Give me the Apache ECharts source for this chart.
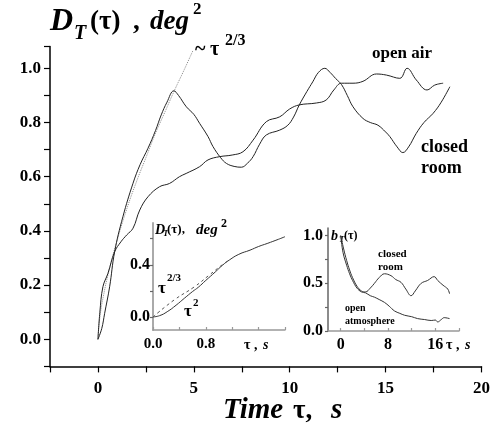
<!DOCTYPE html>
<html><head><meta charset="utf-8">
<script src="https://cdn.jsdelivr.net/npm/echarts@6/dist/echarts.min.js"></script>
<style>html,body{margin:0;padding:0;background:#fff}#c{width:493px;height:425px}</style>
</head><body><div id="c"></div>
<script>
// ---- main plot data (tau in s, D_T in deg^2) ----
const openAir = [[0,0],[0.1,0.1],[0.26,0.194],[0.52,0.243],[0.87,0.323],[1.2,0.36],[1.5,0.385],[1.83,0.41],[2.18,0.477],[2.61,0.526],[3.21,0.563],[3.73,0.575],[4.25,0.6],[4.6,0.612],[5.3,0.637],[5.74,0.662],[6.35,0.674],[7.0,0.68],[7.56,0.692],[8.09,0.735],[8.78,0.803],[9.48,0.821],[10.0,0.85],[10.5,0.865],[11.39,0.872],[11.9,0.883],[12.3,0.92],[12.7,0.945],[13.3,0.945],[13.82,0.952],[14.52,0.979],[15.04,0.975],[15.74,0.963],[16.12,1.0],[16.6,0.957],[17.16,0.92],[17.56,0.938],[18.0,0.945]];
const closedRoom = [[0,0],[0.2,0.04],[0.35,0.096],[0.61,0.194],[0.87,0.323],[1.3,0.452],[1.83,0.576],[2.2,0.645],[2.61,0.705],[3.0,0.77],[3.3,0.828],[3.6,0.875],[3.96,0.917],[4.2,0.9],[4.61,0.858],[5.0,0.83],[5.3,0.797],[5.74,0.748],[6.0,0.711],[6.4,0.67],[6.7,0.649],[7.1,0.638],[7.48,0.635],[7.8,0.65],[8.09,0.674],[8.43,0.72],[8.78,0.754],[9.48,0.772],[9.9,0.79],[10.2,0.82],[10.5,0.865],[10.9,0.915],[11.2,0.95],[11.5,0.985],[11.83,1.0],[12.1,0.985],[12.4,0.962],[12.7,0.94],[13.0,0.9],[13.3,0.858],[13.82,0.815],[14.2,0.8],[14.6,0.79],[15.0,0.765],[15.22,0.748],[15.6,0.71],[15.9,0.689],[16.2,0.71],[16.6,0.76],[17.0,0.8],[17.48,0.834],[17.9,0.875],[18.35,0.932]];
const powerLaw = [[0,0],[0.1,0.08],[0.3,0.165],[0.6,0.26],[1,0.365],[1.5,0.48],[2,0.58],[2.5,0.67],[3,0.76],[3.5,0.84],[4,0.92],[4.5,0.995],[4.95,1.065]];
const mainXTicks = [-2.5,0,2.5,5,7.5,10,12.5,15,17.5,20];
const mainXLabels = [0,5,10,15,20];
const mainYTicks = [-0.1,0,0.1,0.2,0.3,0.4,0.5,0.6,0.7,0.8,0.9,1.0,1.08];
const mainYLabels = [0,0.2,0.4,0.6,0.8,1.0];
// ---- inset 1: short lags ----
const insetSolid = [[0,0],[0.1,0.01],[0.215,0.04],[0.35,0.09],[0.475,0.143],[0.6,0.195],[0.685,0.227],[0.8,0.28],[0.946,0.346],[1.05,0.395],[1.156,0.436],[1.3,0.48],[1.47,0.512],[1.6,0.54],[1.73,0.563],[1.9,0.595],[2.0,0.615]];
const insetDashed = [[0,0],[0.32,0.13],[0.63,0.232],[0.85,0.32],[1.05,0.4],[1.15,0.435]];
const in1XTicks = [0,0.4,0.8,1.2,1.6,2.0];
const in1XLabels = [0,0.8];
const in1YTicks = [0,0.2,0.4,0.6];
const in1YLabels = [0,0.4];
// ---- inset 2: correlation b_T ----
const corrClosed = [[0,1.0],[0.5,0.86],[1,0.74],[1.5,0.64],[2,0.56],[2.75,0.47],[3.5,0.42],[4.2,0.41],[5,0.45],[5.7,0.5],[6.5,0.56],[7.4,0.6],[8.5,0.58],[9.3,0.54],[10.2,0.51],[11,0.44],[11.9,0.37],[12.6,0.42],[13.6,0.5],[14.7,0.53],[15.8,0.57],[16.4,0.53],[17.3,0.48],[18.1,0.44],[18.4,0.39]];
const corrOpen = [[0,1.0],[0.4,0.82],[1,0.69],[1.5,0.6],[2,0.53],[2.75,0.45],[3.5,0.41],[4.2,0.4],[5,0.37],[5.7,0.355],[6.5,0.33],[7.4,0.3],[8.2,0.26],[9.1,0.21],[10,0.185],[10.8,0.165],[12,0.15],[13,0.13],[14.2,0.12],[15.3,0.11],[16,0.115],[16.4,0.095],[17,0.12],[17.5,0.14],[18.4,0.13]];
const in2XTicks = [0,4,8,12,16,20];
const in2XLabels = [0,8,16];
const in2YTicks = [0,0.25,0.5,0.75,1.0];
const in2YLabels = [0,0.5,1.0];

const serif = 'Liberation Serif';
function axisX(grid, min, max, ticks, labels, fmt, o) {
  return {gridIndex:grid, type:'value', min:min, max:max,
    axisLine:{show:true, onZero:false, lineStyle:{color:o.lc, width:o.lw}},
    axisTick:{show:true, inside:o.inside, length:o.tl, customValues:ticks, lineStyle:{color:o.tc||o.lc, width:1.2}},
    axisLabel:{customValues:labels, formatter:fmt, fontFamily:serif, fontWeight:'bold', fontSize:o.fs, color:'#000', margin:o.m},
    splitLine:{show:false}};
}
const chart = echarts.init(document.getElementById('c'), null, {renderer:'canvas'});
function T(x, y, s, size, italic) {
  return {type:'text', x:x, y:y, style:{text:s, fill:'#000',
    font:(italic?'italic ':'')+'bold '+size+'px "'+serif+'"', verticalAlign:'middle', align:'left'}};
}
const mainTop = 339.3 - 1.08*271;
chart.setOption({
  animation:false,
  grid:[
    {left:50, top:mainTop, width:432, height:366.4-mainTop},
    {left:153, top:223, width:132, height:107},
    {left:328, top:228, width:131, height:103}
  ],
  xAxis:[
    axisX(0,-2.5,20,mainXTicks,mainXLabels,v=>String(v),{lc:'#000',lw:1.5,inside:false,tl:6,fs:17,m:14}),
    axisX(1,0,2.0,in1XTicks,in1XLabels,v=>v.toFixed(1),{lc:'#999',lw:1.5,inside:true,tl:3,fs:15,m:7}),
    axisX(2,-2.15,20,in2XTicks,in2XLabels,v=>String(v),{lc:'#999',lw:1.5,inside:true,tl:3,fs:16,m:6})
  ],
  yAxis:[
    axisX(0,-0.1,1.08,mainYTicks,mainYLabels,v=>v.toFixed(1),{lc:'#000',lw:1.5,inside:false,tl:6,fs:17,m:9}),
    axisX(1,-0.1,0.72,in1YTicks,in1YLabels,v=>v.toFixed(1),{lc:'#aaa',lw:2,inside:false,tl:3,fs:16,m:3,tc:'#666'}),
    axisX(2,0,1.08,in2YTicks,in2YLabels,v=>v.toFixed(1),{lc:'#666',lw:1.5,inside:false,tl:3,fs:16,m:5})
  ],
  series:[
    {type:'line', xAxisIndex:0, yAxisIndex:0, data:powerLaw, smooth:true, showSymbol:false, lineStyle:{color:'#888', width:1, type:'dotted'}},
    {type:'line', xAxisIndex:0, yAxisIndex:0, data:openAir, smooth:0.4, showSymbol:false, lineStyle:{color:'#222', width:1}},
    {type:'line', xAxisIndex:0, yAxisIndex:0, data:closedRoom, smooth:0.4, showSymbol:false, lineStyle:{color:'#222', width:1}},
    {type:'line', xAxisIndex:1, yAxisIndex:1, data:insetSolid, smooth:true, showSymbol:false, lineStyle:{color:'#333', width:1}},
    {type:'line', xAxisIndex:1, yAxisIndex:1, data:insetDashed, smooth:true, showSymbol:false, lineStyle:{color:'#555', width:1, type:[3,3]}},
    {type:'line', xAxisIndex:2, yAxisIndex:2, data:corrClosed, smooth:0.4, showSymbol:false, lineStyle:{color:'#333', width:1}},
    {type:'line', xAxisIndex:2, yAxisIndex:2, data:corrOpen, smooth:0.4, showSymbol:false, lineStyle:{color:'#333', width:1}}
  ],
  graphic:[
    // main title
    T(50,22,'D',32,true), T(74,34,'T',20,true), T(90,22,'(τ)',27,false), T(133,22,',',27,false),
    T(150,22,'deg',27,true), T(193,10,'2',17,false),
    // x title
    T(223,411,'Time',29,true), T(293,411,'τ,',27,false), T(331,411,'s',29,true),
    // annotations
    T(195,50,'~',20,false), T(210,50,'τ',20,false), T(225,41,'2/3',16,false),
    T(372,54,'open air',17,false), T(421,147,'closed',18,false), T(421,168,'room',18,false),
    // inset 1 texts
    T(155,230,'D',14,true), T(163,234,'T',9,true), T(167,230,'(τ),',13,false), T(196,230,'deg',15,true), T(221,224,'2',12,false),
    T(158,289,'τ',17,false), T(167,278,'2/3',11,false), T(184,312,'τ',17,false), T(193,303,'2',11,false),
    T(244,345,'τ , ',14,false), T(263,345,'s',14,true),
    // inset 2 texts
    T(331,236,'b',14,true), T(339,240,'T',9,true), T(344,236,'(τ)',12,false),
    T(378,254,'closed',11,false), T(378,267,'room',11,false),
    T(345,308,'open',10,false), T(345,321,'atmosphere',10,false),
    T(446,345,'τ , ',14,false), T(465,345,'s',14,true)
  ]
});
</script></body></html>
